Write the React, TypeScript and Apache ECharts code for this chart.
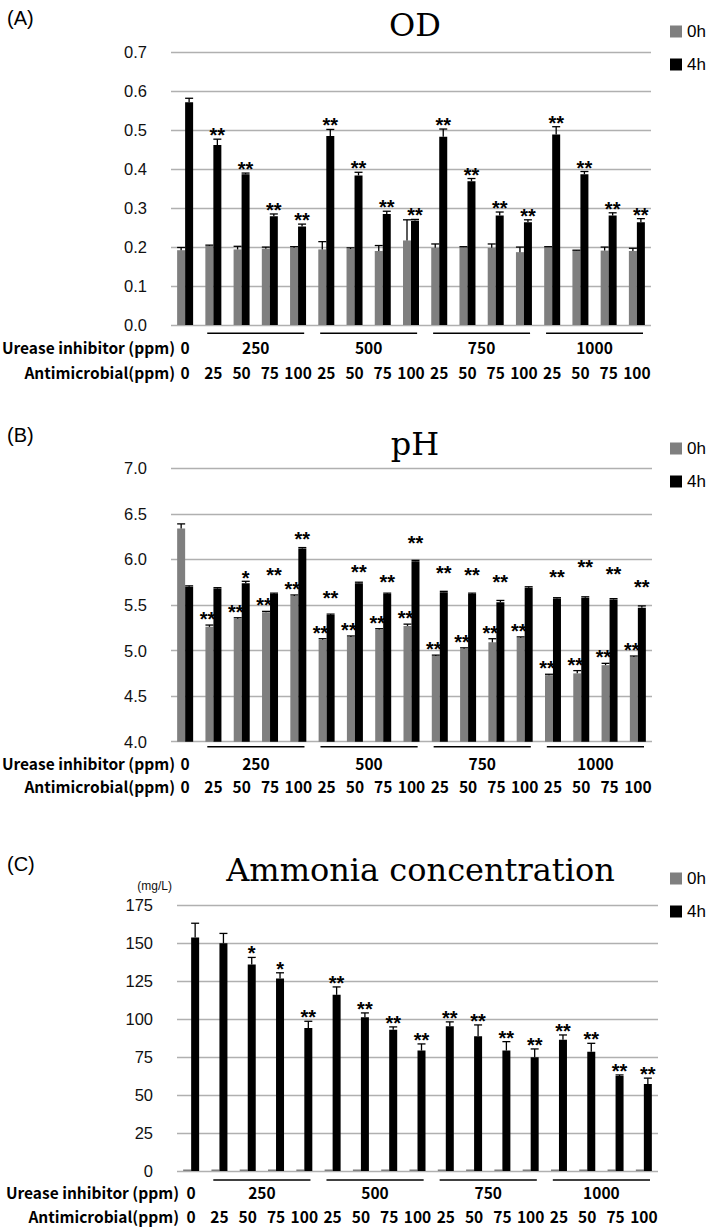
import React, { useEffect, useRef } from 'react';
import * as echarts from 'echarts';

// ---------- data ----------
const antimicrobial = ['0', '25', '50', '75', '100', '25', '50', '75', '100', '25', '50', '75', '100', '25', '50', '75', '100'];
const ureaseLabels = ['0', '250', '500', '750', '1000'];
const ureaseStart = [0, 1, 5, 9, 13];
const ureaseEnd = [0, 4, 8, 12, 16];
const seriesNames = ['0h', '4h'];

const odTicks = [0, 0.1, 0.2, 0.3, 0.4, 0.5, 0.6, 0.7];
const od0h = [0.192, 0.203, 0.194, 0.196, 0.198, 0.194, 0.195, 0.19, 0.217, 0.198, 0.2, 0.198, 0.187, 0.2, 0.191, 0.191, 0.19];
const od0hErr = [0.007, 0.002, 0.008, 0.004, 0.003, 0.02, 0.003, 0.014, 0.053, 0.01, 0.001, 0.01, 0.013, 0.001, 0.001, 0.009, 0.007];
const od4h = [0.572, 0.462, 0.387, 0.279, 0.253, 0.485, 0.384, 0.285, 0.268, 0.483, 0.369, 0.281, 0.264, 0.489, 0.387, 0.281, 0.264];
const od4hErr = [0.01, 0.015, 0.003, 0.006, 0.006, 0.017, 0.008, 0.007, 0.003, 0.02, 0.007, 0.009, 0.006, 0.02, 0.007, 0.007, 0.009];
const odSig0h = ['', '', '', '', '', '', '', '', '', '', '', '', '', '', '', '', ''];
const odSig4h = ['', '**', '**', '**', '**', '**', '**', '**', '**', '**', '**', '**', '**', '**', '**', '**', '**'];

const phTicks = [4.0, 4.5, 5.0, 5.5, 6.0, 6.5, 7.0];
const ph0h = [6.34, 5.26, 5.35, 5.42, 5.6, 5.12, 5.15, 5.23, 5.27, 4.94, 5.02, 5.09, 5.14, 4.73, 4.75, 4.84, 4.93];
const ph0hErr = [0.05, 0.02, 0.01, 0.01, 0.01, 0.01, 0.01, 0.01, 0.02, 0.01, 0.01, 0.04, 0.01, 0.01, 0.03, 0.02, 0.01];
const ph4h = [5.7, 5.68, 5.74, 5.62, 6.12, 5.39, 5.74, 5.62, 5.98, 5.64, 5.62, 5.53, 5.69, 5.57, 5.58, 5.56, 5.47];
const ph4hErr = [0.01, 0.01, 0.02, 0.01, 0.01, 0.01, 0.01, 0.01, 0.01, 0.01, 0.01, 0.02, 0.01, 0.01, 0.01, 0.01, 0.02];
const phSig0h = ['', '**', '**', '**', '**', '**', '**', '**', '**', '**', '**', '**', '**', '**', '**', '**', '**'];
const phSig4h = ['', '', '*', '**', '**', '**', '**', '**', '**', '**', '**', '**', '', '**', '**', '**', '**'];
// pH level at which each 4h significance mark sits
const phSig4hLevel = [null, null, 5.855, 5.884, 6.279, 5.628, 5.92, 5.811, 6.239, 5.909, 5.884, 5.811, null, 5.865, 5.969, 5.895, 5.756];

const amTicks = [0, 25, 50, 75, 100, 125, 150, 175];
const am0h = [1, 1, 1, 1, 1, 1, 1, 1, 1, 1, 1, 1, 1, 1, 1, 1, 1];
const am0hErr = [0, 0, 0, 0, 0, 0, 0, 0, 0, 0, 0, 0, 0, 0, 0, 0, 0];
const am4h = [153.7, 149.8, 135.8, 126.7, 94.1, 115.9, 101.1, 93.0, 79.2, 95.2, 88.6, 79.2, 74.8, 86.4, 78.5, 62.5, 57.2];
const am4hErr = [9.3, 6.5, 4.7, 3.7, 4.4, 5.2, 2.9, 1.8, 4.4, 2.9, 7.5, 5.9, 5.5, 3.1, 5.5, 0.7, 3.9];
const amSig0h = ['', '', '', '', '', '', '', '', '', '', '', '', '', '', '', '', ''];
const amSig4h = ['', '', '*', '*', '**', '**', '**', '**', '**', '**', '**', '**', '**', '**', '**', '**', '**'];

// ---------- styles ----------
const FONT_BOLD = '"Noto Sans CJK JP", "Liberation Sans", sans-serif';
const FONT_TICK = '"Liberation Sans", Arial, sans-serif';
const FONT_TITLE = '"DejaVu Serif", serif';
const FONT_PANEL = '"Liberation Sans", Arial, sans-serif';
const BOLD_SIZE = 15.5;
const TICK_SIZE = 16.5;
const GRAY = '#7f7f7f';
const GRID_LINE = '#b0b0b0';
const BAR_W = 8;
const ASTER_SHIFT = 5;

type Panel = {
  tag: string;
  title: string;
  ticks: number[];
  decimals: number;
  v0: number[]; e0: number[]; v4: number[]; e4: number[];
  sig0: string[]; sig4: string[]; sig4Level: (number | null)[] | null;
  grid: { left: number; top: number; width: number; height: number };
  titleX: number; titleY: number; tagY: number; legendTop: number;
  lineDy: number; ureaseDy: number; antiDy: number; rowRight: number;
  mark0Dy: number; mark4Dy: number; mark0Dx: number;
  unit?: string;
};

const panels: Panel[] = [
  {
    tag: '(A)', title: 'OD', ticks: odTicks, decimals: 1,
    v0: od0h, e0: od0hErr, v4: od4h, e4: od4hErr, sig0: odSig0h, sig4: odSig4h, sig4Level: null,
    grid: { left: 171, top: 52.3, width: 480, height: 272.7 },
    titleX: 415, titleY: 25, tagY: 19, legendTop: 18,
    lineDy: 8.3, ureaseDy: 21.7, antiDy: 46.7, rowRight: 175,
    mark0Dy: 11, mark4Dy: 9, mark0Dx: -2,
  },
  {
    tag: '(B)', title: 'pH', ticks: phTicks, decimals: 1,
    v0: ph0h, e0: ph0hErr, v4: ph4h, e4: ph4hErr, sig0: phSig0h, sig4: phSig4h, sig4Level: phSig4hLevel,
    grid: { left: 171, top: 468.3, width: 481, height: 273.4 },
    titleX: 415, titleY: 444, tagY: 436, legendTop: 435,
    lineDy: 5, ureaseDy: 20.8, antiDy: 44, rowRight: 175,
    mark0Dy: 11, mark4Dy: 9, mark0Dx: -2,
  },
  {
    tag: '(C)', title: 'Ammonia concentration', ticks: amTicks, decimals: 0,
    v0: am0h, e0: am0hErr, v4: am4h, e4: am4hErr, sig0: amSig0h, sig4: amSig4h, sig4Level: null,
    grid: { left: 177, top: 905, width: 481, height: 266 },
    titleX: 420.5, titleY: 870, tagY: 865, legendTop: 865,
    lineDy: 9, ureaseDy: 21, antiDy: 44.8, rowRight: 179,
    mark0Dy: 11, mark4Dy: 9, mark0Dx: -2, unit: '(mg/L)',
  },
];

function errorRender(values: number[], errs: number[], sigs: string[], sigLevel: (number | null)[] | null,
  side: number, markDx: number, markDy: number) {
  return (params: any, api: any) => {
    const i = params.dataIndex;
    const v = values[i];
    const e = errs[i];
    const c = api.coord([i, v]);
    const t = api.coord([i, v + e]);
    const x = c[0] + side * BAR_W / 2;
    const children: any[] = [];
    if (e > 0) {
      children.push({ type: 'line', shape: { x1: x, y1: c[1], x2: x, y2: t[1] }, style: { stroke: '#000', lineWidth: 1.3 } });
      children.push({ type: 'line', shape: { x1: x - BAR_W / 2, y1: t[1], x2: x + BAR_W / 2, y2: t[1] }, style: { stroke: '#000', lineWidth: 1.3 } });
    }
    const s = sigs[i];
    if (s) {
      const lvl = sigLevel ? sigLevel[i] : null;
      const y = lvl != null ? api.coord([i, lvl])[1] : t[1] - markDy;
      children.push({
        type: 'text',
        style: {
          text: s, x: x + markDx, y: y + ASTER_SHIFT, align: 'center', verticalAlign: 'middle',
          fill: '#000', font: 'bold 20px "Liberation Sans", Arial, sans-serif',
        },
      });
    }
    return { type: 'group', children };
  };
}

function groupRender(yMin: number, lineDy: number, labelDy: number) {
  const inset = 8;
  return (params: any, api: any) => {
    const k = params.dataIndex;
    const a = api.coord([ureaseStart[k], yMin]);
    const b = api.coord([ureaseEnd[k], yMin]);
    const band = api.size([1, 0])[0];
    const children: any[] = [];
    if (ureaseEnd[k] > ureaseStart[k]) {
      children.push({
        type: 'line',
        shape: { x1: a[0] - band / 2 + inset, y1: a[1] + lineDy, x2: b[0] + band / 2 - inset, y2: a[1] + lineDy },
        style: { stroke: '#000', lineWidth: 1.6 },
      });
    }
    children.push({
      type: 'text',
      style: {
        text: ureaseLabels[k], x: (a[0] + b[0]) / 2, y: a[1] + labelDy, align: 'center', verticalAlign: 'middle',
        fill: '#000', font: `bold ${BOLD_SIZE}px ${FONT_BOLD}`,
      },
    });
    return { type: 'group', children };
  };
}

function buildOption() {
  const grid: any[] = [];
  const xAxis: any[] = [];
  const yAxis: any[] = [];
  const series: any[] = [];
  const title: any[] = [];
  const legend: any[] = [];
  const graphic: any[] = [];

  panels.forEach((p, k) => {
    const yMin = p.ticks[0];
    const yMax = p.ticks[p.ticks.length - 1];
    const step = p.ticks[1] - p.ticks[0];
    grid.push({ ...p.grid, containLabel: false });
    xAxis.push({
      type: 'category', gridIndex: k, data: antimicrobial,
      axisLine: { show: false }, axisTick: { show: false },
      axisLabel: {
        interval: 0, margin: p.antiDy - BOLD_SIZE / 2, color: '#000',
        fontFamily: FONT_BOLD, fontWeight: 'bold', fontSize: BOLD_SIZE,
      },
    });
    yAxis.push({
      type: 'value', gridIndex: k, min: yMin, max: yMax, interval: step, startValue: yMin,
      axisLine: { show: false }, axisTick: { show: false },
      splitLine: { show: true, lineStyle: { color: GRID_LINE, width: 1.3 } },
      axisLabel: {
        margin: 24, color: '#111', fontFamily: FONT_TICK, fontSize: TICK_SIZE,
        formatter: (v: number) => v.toFixed(p.decimals),
      },
      name: p.unit || '',
      nameLocation: 'end', nameGap: 13,
      nameTextStyle: { align: 'right', padding: [0, 5, 0, 0], fontFamily: FONT_TICK, fontSize: 12, color: '#111' },
    });
    series.push({
      type: 'bar', name: seriesNames[0], xAxisIndex: k, yAxisIndex: k, data: p.v0,
      barWidth: BAR_W, barGap: '0%', itemStyle: { color: GRAY }, clip: true,
    });
    series.push({
      type: 'bar', name: seriesNames[1], xAxisIndex: k, yAxisIndex: k, data: p.v4,
      barWidth: BAR_W, barGap: '0%', itemStyle: { color: '#000' }, clip: true,
    });
    series.push({
      type: 'custom', name: `err0-${k}`, xAxisIndex: k, yAxisIndex: k, clip: false, z: 5,
      data: p.v0.map((v, i) => [i, v]), encode: { x: 0, y: 1 },
      renderItem: errorRender(p.v0, p.e0, p.sig0, null, -1, p.mark0Dx, p.mark0Dy),
    });
    series.push({
      type: 'custom', name: `err4-${k}`, xAxisIndex: k, yAxisIndex: k, clip: false, z: 5,
      data: p.v4.map((v, i) => [i, v]), encode: { x: 0, y: 1 },
      renderItem: errorRender(p.v4, p.e4, p.sig4, p.sig4Level, 1, 0, p.mark4Dy),
    });
    series.push({
      type: 'custom', name: `urease-${k}`, xAxisIndex: k, yAxisIndex: k, clip: false, z: 5,
      data: ureaseStart.map((s, i) => [s, yMin, ureaseEnd[i]]), encode: { x: 0, y: 1 },
      renderItem: groupRender(yMin, p.lineDy, p.ureaseDy),
    });
    title.push({
      text: p.title, left: p.titleX, top: p.titleY, padding: 0,
      textAlign: 'center', textVerticalAlign: 'middle',
      textStyle: { fontFamily: FONT_TITLE, fontSize: 32, fontWeight: 'normal', color: '#000' },
    });
    legend.push({
      orient: 'vertical', left: 665, top: p.legendTop, data: seriesNames, selectedMode: false,
      icon: 'rect', itemWidth: 12, itemHeight: 12, itemGap: 16,
      textStyle: { fontFamily: FONT_TICK, fontSize: 17, color: '#000' },
    });
    graphic.push({
      type: 'text', left: 7, top: p.tagY - 11,
      style: { text: p.tag, font: `20px ${FONT_PANEL}`, fill: '#000' },
    });
    const axisY = p.grid.top + p.grid.height;
    graphic.push({
      type: 'text', x: p.rowRight, y: axisY + p.ureaseDy,
      style: { text: 'Urease inhibitor (ppm)', align: 'right', verticalAlign: 'middle', font: `bold ${BOLD_SIZE}px ${FONT_BOLD}`, fill: '#000' },
    });
    graphic.push({
      type: 'text', x: p.rowRight, y: axisY + p.antiDy,
      style: { text: 'Antimicrobial(ppm)', align: 'right', verticalAlign: 'middle', font: `bold ${BOLD_SIZE}px ${FONT_BOLD}`, fill: '#000' },
    });
  });

  return { animation: false, backgroundColor: '#fff', grid, xAxis, yAxis, series, title, legend, graphic };
}

export default function App() {
  const ref = useRef<HTMLDivElement>(null);
  useEffect(() => {
    if (!ref.current) return;
    const chart = echarts.init(ref.current, null, { renderer: 'svg' });
    chart.setOption(buildOption() as any);
    return () => chart.dispose();
  }, []);
  return <div ref={ref} style={{ position: 'absolute', left: 0, top: 0, width: 709, height: 1227 }} />;
}
